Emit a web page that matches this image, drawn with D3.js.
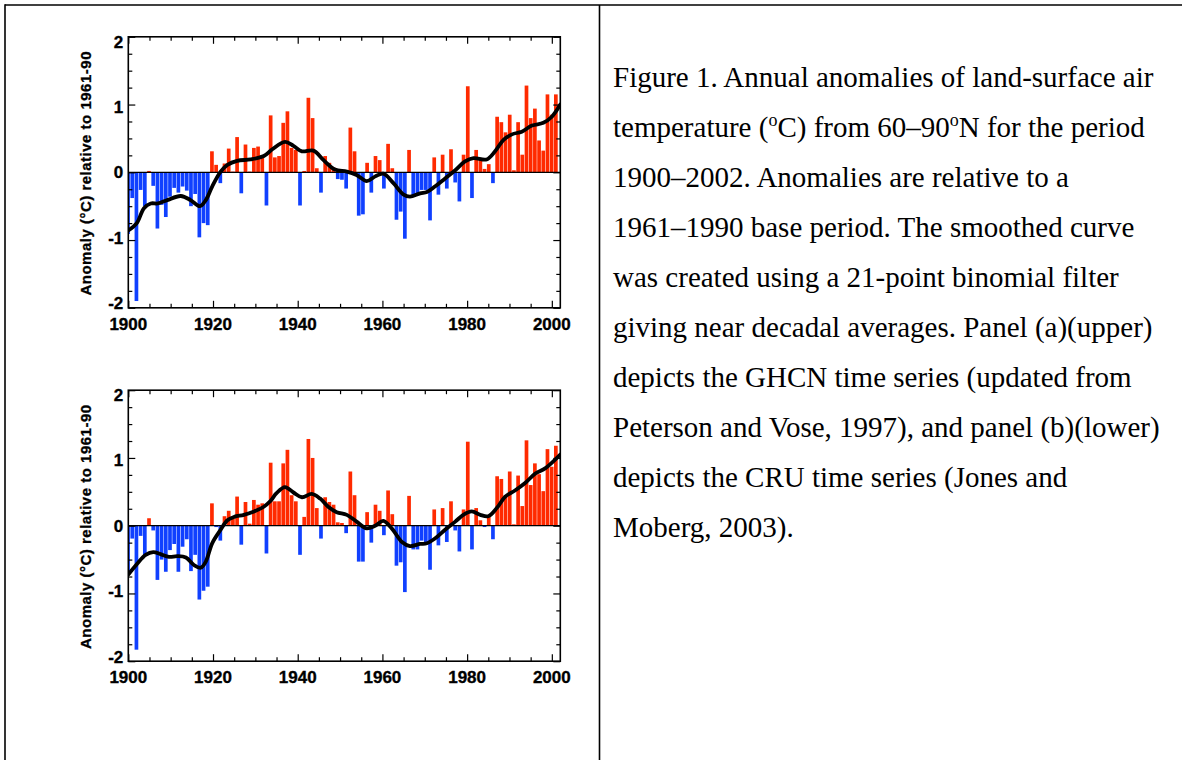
<!DOCTYPE html>
<html>
<head>
<meta charset="utf-8">
<script src="https://cdn.jsdelivr.net/npm/d3@7"></script>
<style>
  body { margin: 0; background: #fff; }
  svg { display: block; }
</style>
</head>
<body>
<svg id="fig" width="1182" height="760"></svg>
<script>
// annual anomalies, one value per year from 1900 to 2002
var startYear = 1900;

var ghcnValues = [
  -0.91, -0.38, -1.90, -0.26, -0.50, 0.02, -0.20, -0.83, -0.48, -0.66,
  -0.36, -0.23, -0.30, -0.21, -0.27, -0.50, -0.32, -0.96, -0.75, -0.78,
  0.31, 0.11, -0.16, 0.13, 0.35, 0.01, 0.52, -0.31, 0.41, 0.01,
  0.36, 0.38, 0.25, -0.49, 0.84, 0.22, 0.24, 0.73, 0.90, 0.36,
  0.33, -0.49, 0.02, 1.10, 0.80, 0.06, -0.30, 0.24, 0.14, 0.07,
  -0.10, -0.11, -0.24, 0.66, 0.31, -0.64, -0.62, 0.14, -0.30, 0.24,
  0.18, -0.24, 0.42, 0.06, -0.70, -0.58, -0.98, 0.33, -0.36, -0.33,
  -0.26, -0.26, -0.71, 0.22, -0.33, 0.26, -0.24, 0.34, -0.15, -0.43,
  0.26, 1.27, -0.38, 0.33, 0.19, 0.05, 0.12, -0.16, 0.82, 0.74,
  0.59, 0.85, 0.03, 0.74, 0.26, 1.28, 0.80, 0.94, 0.47, 0.32,
  1.15, 0.85, 1.15
];

var cruValues = [
  -0.70, -0.19, -1.83, -0.15, -0.43, 0.11, -0.07, -0.80, -0.50, -0.68,
  -0.36, -0.27, -0.68, -0.31, -0.20, -0.67, -0.43, -1.09, -0.96, -0.90,
  0.33, -0.02, -0.22, 0.14, 0.22, 0.10, 0.43, -0.28, 0.35, 0.03,
  0.38, 0.31, 0.33, -0.41, 0.93, 0.36, 0.36, 0.92, 1.12, 0.45,
  0.36, -0.43, 0.13, 1.28, 1.00, 0.26, -0.19, 0.42, 0.35, 0.31,
  0.05, 0.04, -0.11, 0.80, 0.45, -0.53, -0.53, 0.20, -0.25, 0.31,
  0.22, -0.14, 0.52, 0.17, -0.59, -0.54, -0.98, 0.44, -0.35, -0.35,
  -0.22, -0.24, -0.65, 0.24, -0.29, 0.26, -0.24, 0.36, -0.07, -0.38,
  0.24, 1.24, -0.35, 0.26, 0.08, -0.02, 0.13, -0.20, 0.73, 0.69,
  0.45, 0.80, 0.02, 0.74, 0.29, 1.26, 0.60, 0.92, 0.76, 0.51,
  1.13, 0.87, 1.18
];

// smoothed curves (21-point binomial)
var ghcnSmoothYears = [1900, 1902, 1903.7, 1905.3, 1907, 1909.2, 1912.4, 1914.7, 1916.9, 1918.3,
  1919.8, 1921.8, 1923.4, 1925.7, 1928.9, 1932, 1934, 1937, 1939, 1941,
  1943.7, 1946.1, 1948.8, 1951.6, 1953.9, 1956.3, 1958.3, 1960.2, 1962.6, 1965,
  1966.5, 1968.9, 1970.5, 1972.4, 1974.8, 1977.2, 1979.5, 1981.5, 1984.6, 1986.6,
  1988.6, 1990.6, 1992.9, 1995.3, 1998, 2000, 2002];
var ghcnSmoothValues = [-0.86, -0.75, -0.53, -0.46, -0.46, -0.41, -0.35, -0.41, -0.50, -0.41,
  -0.21, 0.01, 0.11, 0.17, 0.19, 0.24, 0.34, 0.45, 0.39, 0.31,
  0.32, 0.18, 0.04, 0.01, -0.04, -0.13, -0.06, -0.02, -0.16, -0.33,
  -0.36, -0.31, -0.29, -0.21, -0.09, 0.03, 0.16, 0.21, 0.19, 0.31,
  0.48, 0.56, 0.60, 0.69, 0.73, 0.82, 1.00];

var cruSmoothYears = [1900, 1902.1, 1904.1, 1905.9, 1907.6, 1909.6, 1911.6, 1913.6, 1915.5, 1917.1,
  1918.3, 1919.8, 1921.8, 1923.4, 1925, 1927.3, 1929.7, 1932, 1933.5, 1935,
  1937, 1939, 1941, 1943.3, 1945.3, 1947.2, 1949.2, 1951.6, 1953.9, 1956.3,
  1958.3, 1960.2, 1962.2, 1964.6, 1966.5, 1968.9, 1970.5, 1972.4, 1974.8, 1977.2,
  1979.1, 1981.1, 1983.1, 1985, 1987, 1989, 1991.3, 1993.7, 1996.1, 1998.5, 2002];
var cruSmoothValues = [-0.72, -0.56, -0.43, -0.39, -0.42, -0.46, -0.45, -0.47, -0.58, -0.62,
  -0.53, -0.26, -0.06, 0.08, 0.13, 0.16, 0.21, 0.28, 0.36, 0.48,
  0.57, 0.49, 0.42, 0.47, 0.40, 0.28, 0.20, 0.16, 0.06, -0.04,
  0.00, 0.07, -0.04, -0.24, -0.30, -0.27, -0.26, -0.19, -0.06, 0.06,
  0.16, 0.21, 0.16, 0.14, 0.26, 0.43, 0.52, 0.63, 0.77, 0.85, 1.05];

var xTickLabels = [1900, 1920, 1940, 1960, 1980, 2000];
var yTickLabels = [2, 1, 0, -1, -2];
var yAxisTitle = "Anomaly (\u00B0C) relative to 1961-90";

var captionLines = [
  [["Figure 1. Annual anomalies of land-surface air"]],
  [["temperature ("], ["o", "sup"], ["C) from 60\u201390"], ["o", "sup"], ["N for the period"]],
  [["1900\u20132002. Anomalies are relative to a"]],
  [["1961\u20131990 base period. The smoothed curve"]],
  [["was created using a 21-point binomial filter"]],
  [["giving near decadal averages. Panel (a)(upper)"]],
  [["depicts the GHCN time series (updated from"]],
  [["Peterson and Vose, 1997), and panel (b)(lower)"]],
  [["depicts the CRU time series (Jones and"]],
  [["Moberg, 2003)."]]
];

var red = "#ff2a00";
var blue = "#1040ff";
var sans = "'Liberation Sans', Arial, Helvetica, sans-serif";

var svg = d3.select("#fig");

svg.append("rect")
  .attr("width", 1182)
  .attr("height", 760)
  .attr("fill", "#fff");

// table borders
var border = svg.append("g")
  .attr("stroke", "#000")
  .attr("stroke-width", 1.6);
border.append("line").attr("x1", 5).attr("y1", 5).attr("x2", 1182).attr("y2", 5);
border.append("line").attr("x1", 5).attr("y1", 4.2).attr("x2", 5).attr("y2", 760);
border.append("line").attr("x1", 599.5).attr("y1", 5).attr("x2", 599.5).attr("y2", 760);

var plotWidth = 432;
var plotHeight = 271;

function drawPanel(left, top, values, smoothYears, smoothValues, clipId) {
  var years = d3.range(startYear, startYear + values.length);

  // tick scale and bar scale (bars are spread over one extra slot)
  var x = d3.scaleLinear().domain([1900, 2002]).range([0, plotWidth]);
  var xb = d3.scaleLinear().domain([1900, 2003]).range([0, plotWidth]);
  var y = d3.scaleLinear().domain([-2, 2]).range([plotHeight, 0]);
  var bw = xb(1901) - xb(1900);

  var g = svg.append("g")
    .attr("transform", "translate(" + left + "," + top + ")");

  g.append("defs").append("clipPath")
    .attr("id", clipId)
    .append("rect")
    .attr("width", plotWidth)
    .attr("height", plotHeight);

  var plot = g.append("g").attr("clip-path", "url(#" + clipId + ")");

  plot.selectAll(".bar")
    .data(years)
    .enter()
    .append("rect")
    .attr("class", "bar")
    .attr("x", function (d) { return xb(d) - bw / 2; })
    .attr("width", bw - 0.5)
    .attr("y", function (d, i) { return values[i] >= 0 ? y(values[i]) : y(0); })
    .attr("height", function (d, i) { return Math.abs(y(values[i]) - y(0)); })
    .attr("fill", function (d, i) { return values[i] >= 0 ? red : blue; });

  // zero line
  g.append("line")
    .attr("x1", 0).attr("x2", plotWidth)
    .attr("y1", y(0)).attr("y2", y(0))
    .attr("stroke", "#000")
    .attr("stroke-width", 1.3);

  plot.append("path")
    .datum(smoothYears)
    .attr("fill", "none")
    .attr("stroke", "#000")
    .attr("stroke-width", 3.8)
    .attr("stroke-linejoin", "round")
    .attr("stroke-linecap", "round")
    .attr("d", d3.line()
      .curve(d3.curveCatmullRom.alpha(0.5))
      .x(function (d) { return x(d); })
      .y(function (d, i) { return y(smoothValues[i]); })
    );

  // inward ticks on all four sides
  var majorYears = xTickLabels;
  var minorYears = d3.range(1905, 2002, 5).filter(function (d) { return d % 20 != 0; });
  var majorVals = yTickLabels;
  var minorVals = d3.range(-1.75, 2, 0.25).filter(function (d) { return Math.abs(d % 1) > 0.01; });

  function tickGroup(axis, tx, ty) {
    var a = g.append("g")
      .attr("transform", "translate(" + tx + "," + ty + ")")
      .call(axis);
    a.select(".domain").remove();
    a.selectAll("line").attr("stroke-width", 1.2);
    a.selectAll("text").remove();
  }

  tickGroup(d3.axisBottom(x).tickValues(majorYears).tickSize(-7), 0, plotHeight);
  tickGroup(d3.axisBottom(x).tickValues(minorYears).tickSize(-4), 0, plotHeight);
  tickGroup(d3.axisTop(x).tickValues(majorYears).tickSize(-7), 0, 0);
  tickGroup(d3.axisTop(x).tickValues(minorYears).tickSize(-4), 0, 0);
  tickGroup(d3.axisLeft(y).tickValues(majorVals).tickSize(-7), 0, 0);
  tickGroup(d3.axisLeft(y).tickValues(minorVals).tickSize(-4), 0, 0);
  tickGroup(d3.axisRight(y).tickValues(majorVals).tickSize(-7), plotWidth, 0);
  tickGroup(d3.axisRight(y).tickValues(minorVals).tickSize(-4), plotWidth, 0);

  g.append("rect")
    .attr("width", plotWidth)
    .attr("height", plotHeight)
    .attr("fill", "none")
    .attr("stroke", "#000")
    .attr("stroke-width", 1.6);

  // labels
  g.selectAll(".xlab")
    .data(xTickLabels)
    .enter()
    .append("text")
    .attr("x", function (d) { return x(d); })
    .attr("y", plotHeight + 22)
    .attr("text-anchor", "middle")
    .attr("font-family", sans)
    .attr("font-size", 17)
    .attr("font-weight", "bold")
    .attr("stroke", "#000")
    .attr("stroke-width", 0.35)
    .text(function (d) { return d; });

  g.selectAll(".ylab")
    .data(yTickLabels)
    .enter()
    .append("text")
    .attr("x", -5)
    .attr("y", function (d) { return y(0) + (y(d) - y(0)) * 0.965; })
    .attr("dy", "0.36em")
    .attr("text-anchor", "end")
    .attr("font-family", sans)
    .attr("font-size", 17)
    .attr("font-weight", "bold")
    .attr("stroke", "#000")
    .attr("stroke-width", 0.35)
    .text(function (d) { return d; });

  g.append("text")
    .attr("transform", "translate(" + (90.5 - left) + "," + (plotHeight / 2 + 1) + ") rotate(-90)")
    .attr("text-anchor", "middle")
    .attr("font-family", sans)
    .attr("font-size", 15)
    .attr("font-weight", "bold")
    .attr("letter-spacing", 0.5)
    .attr("stroke", "#000")
    .attr("stroke-width", 0.3)
    .text(yAxisTitle);
}

drawPanel(128.3, 36.8, ghcnValues, ghcnSmoothYears, ghcnSmoothValues, "clipA");
drawPanel(128.3, 390.2, cruValues, cruSmoothYears, cruSmoothValues, "clipB");

// caption
var caption = svg.append("g")
  .attr("font-family", "'Liberation Serif', 'Times New Roman', serif")
  .attr("font-size", 29)
  .attr("fill", "#000");

captionLines.forEach(function (parts, i) {
  var t = caption.append("text")
    .attr("x", 613)
    .attr("y", 86.5 + i * 50);
  parts.forEach(function (p, k) {
    if (p[1] == "sup") {
      t.append("tspan")
        .attr("dy", -11)
        .attr("font-size", 18)
        .text(p[0]);
    } else {
      var s = t.append("tspan").text(p[0]);
      if (k > 0) s.attr("dy", 11);
    }
  });
});
</script>
</body>
</html>
